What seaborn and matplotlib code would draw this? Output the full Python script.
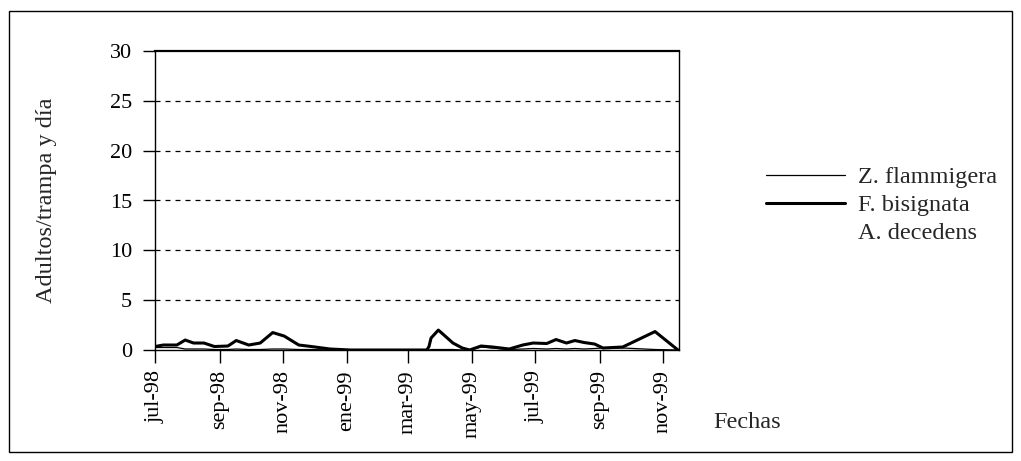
import matplotlib
matplotlib.use("Agg")
import matplotlib.pyplot as plt
import matplotlib.patches as mpatches
import seaborn as sns
import pandas as pd

# ---- data ----
fechas = ["1998-07-01", "1998-07-09", "1998-07-22", "1998-07-30", "1998-08-07",
          "1998-08-17", "1998-08-27", "1998-09-09", "1998-09-17", "1998-09-29",
          "1998-10-10", "1998-10-22", "1998-11-02", "1998-11-16", "1998-11-28",
          "1998-12-16", "1999-01-05", "1999-03-19", "1999-03-21", "1999-03-23",
          "1999-03-30", "1999-04-13", "1999-04-22", "1999-04-29", "1999-05-10",
          "1999-05-21", "1999-06-06", "1999-06-19", "1999-06-29", "1999-07-12",
          "1999-07-21", "1999-07-31", "1999-08-08", "1999-08-17", "1999-08-27",
          "1999-09-04", "1999-09-23", "1999-10-24", "1999-11-15"]

f_bisignata = [0.35, 0.5, 0.5, 1.0, 0.7, 0.7, 0.35, 0.4, 0.95, 0.5,
               0.7, 1.75, 1.4, 0.5, 0.35, 0.1, 0.0, 0.0, 0.35, 1.2,
               2.0, 0.7, 0.2, 0.0, 0.4, 0.3, 0.1, 0.5, 0.7, 0.65,
               1.05, 0.7, 0.95, 0.75, 0.6, 0.2, 0.3, 1.85, 0.0]

z_flammigera = [0.25, 0.25, 0.25, 0.1, 0.1, 0.1, 0.05, 0.05, 0.1, 0.05,
                0.05, 0.1, 0.1, 0.05, 0.05, 0.0, 0.0, 0.0, 0.0, 0.05,
                0.05, 0.05, 0.0, 0.0, 0.3, 0.2, 0.05, 0.1, 0.15, 0.1,
                0.15, 0.1, 0.15, 0.1, 0.15, 0.2, 0.2, 0.05, 0.0]

a_decedens = [0.0] * len(fechas)

tick_fechas = ["1998-07-01", "1998-09-01", "1998-11-01", "1999-01-01", "1999-03-01",
               "1999-05-01", "1999-07-01", "1999-09-01", "1999-11-01"]
tick_labels = ["jul-98", "sep-98", "nov-98", "ene-99", "mar-99",
               "may-99", "jul-99", "sep-99", "nov-99"]
y_ticks = [0, 5, 10, 15, 20, 25, 30]

# ---- styling ----
sns.set_style("ticks")
plt.rcParams["font.family"] = ["Liberation Serif", "DejaVu Serif"]
TICK_FS = 16
LABEL_FS = 17.5

df = pd.DataFrame({
    "fecha": pd.to_datetime(fechas),
    "Z. flammigera": z_flammigera,
    "F. bisignata": f_bisignata,
    "A. decedens": a_decedens,
})

fig = plt.figure(figsize=(10.21, 4.61), dpi=100)
ax = fig.add_axes([155 / 1021, 1 - 350 / 461, (679 - 155) / 1021, (350 - 51) / 461])

sns.lineplot(data=df, x="fecha", y="A. decedens", ax=ax, color="white",
             lw=1.0, label="A. decedens", zorder=1)
sns.lineplot(data=df, x="fecha", y="F. bisignata", ax=ax, color="black",
             lw=2.2, label="F. bisignata", zorder=3)
sns.lineplot(data=df, x="fecha", y="Z. flammigera", ax=ax, color="black",
             lw=0.9, label="Z. flammigera", zorder=4)

ax.set_ylim(0, 30)
ax.set_xlim(pd.Timestamp("1998-07-01"), pd.Timestamp("1999-11-16"))
ax.set_yticks(y_ticks)
ax.set_xticks(pd.to_datetime(tick_fechas))
ax.set_xticklabels(tick_labels, rotation=90)
ax.tick_params(axis="x", direction="out", length=9.5, width=1, pad=5, labelsize=TICK_FS, colors="black")
ax.tick_params(axis="y", direction="out", length=8.5, width=1, pad=8, labelsize=TICK_FS, colors="black")

for yv in y_ticks[1:-1]:
    ax.axhline(yv, color="black", lw=0.9, ls=(0, (4, 4)), zorder=0)

for s in ax.spines.values():
    s.set_visible(True)
    s.set_color("black")
    s.set_linewidth(1.0)
ax.spines["top"].set_linewidth(1.6)

ax.set_xlabel("")
ax.set_ylabel("Adultos/trampa y día", fontsize=LABEL_FS)
ax.yaxis.set_label_coords(-0.187, 0.5)

handles, labels = ax.get_legend_handles_labels()
order = ["Z. flammigera", "F. bisignata", "A. decedens"]
hmap = dict(zip(labels, handles))
ax.legend([hmap[k] for k in order], order, loc="upper left",
          bbox_to_anchor=(766 / 1021, 1 - 166 / 461), bbox_transform=fig.transFigure,
          frameon=False, fontsize=LABEL_FS, handlelength=3.25, handletextpad=0.53,
          labelspacing=0.25, borderpad=0, borderaxespad=0)

fig.text(713 / 1021, 1 - 428 / 461, "Fechas", fontsize=LABEL_FS, va="baseline", ha="left")

fig.patches.append(mpatches.Rectangle((9 / 1021, 1 - 452 / 461), 1003 / 1021, 441 / 461,
                                      transform=fig.transFigure, fill=False,
                                      edgecolor="black", lw=1.0))

fig.savefig("out.png", dpi=100)
